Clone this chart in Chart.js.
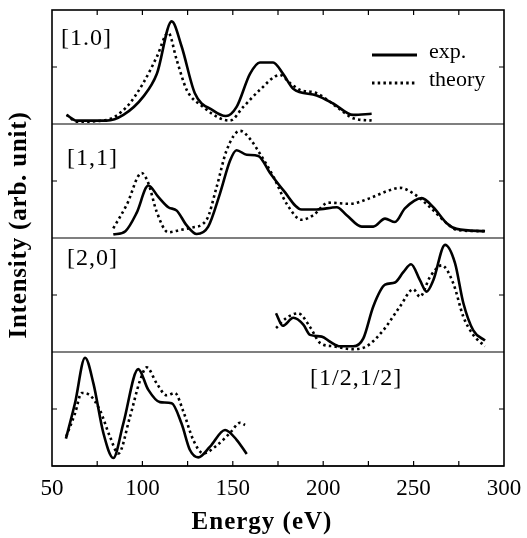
<!DOCTYPE html>
<html><head><meta charset="utf-8">
<script src="https://cdn.jsdelivr.net/npm/chart.js@4/dist/chart.umd.min.js"></script>
<style>html,body{margin:0;padding:0;background:#fff}</style>
</head><body>
<canvas id="c" width="527" height="538"></canvas>
<script>
// ---- data ----
const panelLabels = ['[1.0]', '[1,1]', '[2,0]', '[1/2,1/2]'];
const seriesNames = ['exp.', 'theory'];
const xTickValues = [50, 100, 150, 200, 250, 300];
const xTitle = 'Energy (eV)';
const yTitle = 'Intensity (arb. unit)';

// panel [1.0]
const p1ExpE = [58.1, 63.6, 80, 89.5, 100.5, 108, 116.2, 121.7, 129, 139, 146.2, 152.1, 159.5, 165, 172.3, 177.8, 183.4, 196.4, 205.5, 216.6, 226.8];
const p1ExpV = [8, 3, 3, 8, 24, 44, 90, 68, 27, 12, 7, 15, 44, 54, 54, 44, 31, 25, 18, 8, 9];
const p1ThE  = [58, 64, 80, 91.3, 100.5, 108, 114.3, 119, 124.5, 133.6, 142.9, 148.4, 155.8, 165, 176, 181.6, 187, 196.4, 207.5, 216.6, 226.8];
const p1ThV  = [8, 2, 3.5, 15, 36, 59, 80, 56, 30, 15, 5, 3, 15, 30, 43, 36, 30, 27, 15, 5, 3];

// panel [1,1]
const p2ExpE = [83.9, 90.6, 96.8, 103.3, 108.8, 114.3, 119, 124.5, 130, 136.4, 142.9, 148.5, 152.1, 157.7, 164.1, 170.6, 177.9, 188.1, 196.4, 207.5, 213, 221.3, 227.7, 234.2, 239.7, 245.2, 254.5, 260.9, 268.3, 273.8, 289.5];
const p2ExpV = [3, 6, 22, 46, 36, 27, 24, 11, 3.5, 10, 39, 68, 77, 73, 72, 57, 42, 25, 25, 27, 20, 10, 10, 17, 14, 26, 35, 27, 13, 8, 6];
const p2ThE  = [83.9, 91.3, 99.6, 103.3, 107.9, 114.3, 120.8, 127, 135.5, 141.1, 146.6, 154, 159.5, 165, 172.4, 179.8, 188.1, 194.5, 202.8, 214.8, 225.9, 235.1, 242.5, 249.9, 259.1, 268.3, 274, 289.5];
const p2ThV  = [8.5, 29, 57, 48, 23, 5, 7, 9, 16, 45, 77, 94, 87, 74, 54, 30, 16, 20, 31, 30, 35, 41, 44, 39, 27, 13, 7, 6];

// panel [2,0]
const p3ExpE = [173.9, 177.6, 183.5, 189, 192.7, 199.2, 203.8, 209.3, 216.6, 222.2, 227.7, 234.2, 239.7, 244.3, 248.6, 253.5, 257.2, 260.9, 267.4, 272.9, 277.5, 283, 289.5];
const p3ExpV = [34, 23, 30, 24, 15, 13.5, 9, 5, 5, 12, 40, 59, 61, 70, 77, 63, 53, 63, 94, 78, 43, 19, 10];
const p3ThE  = [173.9, 179.8, 186.2, 192.7, 198.2, 205.6, 216.6, 224, 233.2, 242.5, 249.9, 253.5, 259.1, 265.6, 272, 277.5, 283, 289.5];
const p3ThV  = [21, 30, 34, 22, 8, 5, 2.5, 5, 19, 40, 55, 48.5, 66, 76, 60, 31, 15, 5];

// panel [1/2,1/2]
const p4ExpE = [57.7, 62.7, 68.3, 72.9, 78.4, 83.9, 89.4, 97.7, 103.2, 109.7, 116.2, 121.7, 126.3, 130.9, 137.4, 145.7, 152.1, 157.7];
const p4ExpV = [24, 55, 95, 72.5, 29, 7, 37, 85, 67, 56, 55, 37, 14, 7.6, 17, 31.6, 23, 10.5];
const p4ThE  = [57.9, 62.7, 66.4, 71, 76.5, 82, 86.7, 93.1, 98.7, 102.4, 107.9, 113.4, 118, 122.6, 128.1, 133.7, 141.1, 148.5, 154, 156.8];
const p4ThV  = [26, 46, 64, 62, 49, 26, 11, 43, 75, 86.5, 72.5, 62, 64, 48, 23, 11, 18, 29, 38, 36];

// ---- build ----
const toPts = (E, V) => E.map((x, i) => ({x: x, y: V[i]}));
const panels = [
  [p1ExpE, p1ExpV, p1ThE, p1ThV],
  [p2ExpE, p2ExpV, p2ThE, p2ThV],
  [p3ExpE, p3ExpV, p3ThE, p3ThV],
  [p4ExpE, p4ExpV, p4ThE, p4ThV]
];
const DASH = [2.5, 3.2];
const datasets = [];
panels.forEach((p, i) => {
  datasets.push({label: seriesNames[0], data: toPts(p[0], p[1]), yAxisID: 'y' + (i + 1),
    borderColor: '#000', borderWidth: 2.6, pointRadius: 0, fill: false, cubicInterpolationMode: 'monotone'});
  datasets.push({label: seriesNames[1], data: toPts(p[2], p[3]), yAxisID: 'y' + (i + 1),
    borderColor: '#000', borderWidth: 2.6, borderDash: DASH, pointRadius: 0, fill: false, cubicInterpolationMode: 'monotone'});
});

const SERIF = '"Liberation Serif", "Times New Roman", serif';
function yScale(w) {
  return {type: 'linear', min: 0, max: 100, stack: 'panels', stackWeight: 1, weight: w, position: 'left',
    ticks: {display: false}, grid: {display: false}, border: {display: false},
    afterFit: s => { s.width = 0; }};
}

const labelPos = [
  {x: 61, dy: 29},
  {x: 67, dy: 35},
  {x: 67, dy: 21},
  {x: 310, dy: 27}
];

const framePlugin = {
  id: 'frame',
  afterDatasetsDraw(chart) {
    const {ctx, chartArea: a, scales} = chart;
    const xs = scales.x;
    ctx.save();
    ctx.strokeStyle = '#000';
    ctx.fillStyle = '#000';
    ctx.lineWidth = 1.6;
    ctx.strokeRect(a.left, a.top, a.right - a.left, a.bottom - a.top);
    ctx.lineWidth = 1.2;
    for (let i = 1; i <= 4; i++) {
      const s = scales['y' + i];
      ctx.beginPath();
      ctx.moveTo(a.left, s.bottom); ctx.lineTo(a.right, s.bottom); ctx.stroke();
      const ym = s.getPixelForValue(50);
      ctx.beginPath();
      ctx.moveTo(a.left, ym); ctx.lineTo(a.left + 5, ym);
      ctx.moveTo(a.right, ym); ctx.lineTo(a.right - 5, ym);
      ctx.stroke();
      ctx.font = '24px ' + SERIF;
      ctx.textAlign = 'left';
      ctx.textBaseline = 'middle';
      ctx.letterSpacing = '1px';
      ctx.fillText(panelLabels[i - 1], labelPos[i - 1].x, s.top + labelPos[i - 1].dy);
      ctx.letterSpacing = '0px';
    }
    for (let v = 75; v < 300; v += 25) {
      const px = xs.getPixelForValue(v);
      ctx.beginPath();
      ctx.moveTo(px, a.top); ctx.lineTo(px, a.top + 5);
      ctx.moveTo(px, a.bottom); ctx.lineTo(px, a.bottom - 5);
      ctx.stroke();
    }
    // legend
    const t = scales.y1.top;
    ctx.lineWidth = 2.8;
    ctx.beginPath(); ctx.moveTo(372, t + 45); ctx.lineTo(417, t + 45); ctx.stroke();
    ctx.setLineDash(DASH);
    ctx.beginPath(); ctx.moveTo(372, t + 73); ctx.lineTo(415, t + 73); ctx.stroke();
    ctx.setLineDash([]);
    ctx.font = '22px ' + SERIF;
    ctx.textAlign = 'left';
    ctx.textBaseline = 'middle';
    ctx.fillText(seriesNames[0], 429, t + 42);
    ctx.fillText(seriesNames[1], 429, t + 70);
    // x title (centred on the figure)
    ctx.font = 'bold 25px ' + SERIF;
    ctx.textAlign = 'center';
    ctx.textBaseline = 'middle';
    ctx.letterSpacing = '1px';
    ctx.fillText(xTitle, 262, 523);
    // y title
    ctx.translate(20, 225);
    ctx.rotate(-Math.PI / 2);
    ctx.letterSpacing = '0.8px';
    ctx.fillText(yTitle, 0, 0);
    ctx.restore();
  }
};

new Chart(document.getElementById('c'), {
  type: 'line',
  data: {datasets},
  options: {
    responsive: false,
    animation: false,
    devicePixelRatio: 1,
    layout: {padding: {left: 52, right: 23, top: 10, bottom: 0}},
    plugins: {legend: {display: false}, tooltip: {enabled: false}},
    scales: {
      x: {type: 'linear', min: 50, max: 300, position: 'bottom',
        afterBuildTicks: s => { s.ticks = xTickValues.map(v => ({value: v})); },
        ticks: {font: {family: SERIF, size: 23}, color: '#000', padding: 1, maxRotation: 0},
        grid: {display: false}, border: {display: false},
        title: {display: false},
        afterFit: s => { s.height = 72; }},
      y1: yScale(4),
      y2: yScale(3),
      y3: yScale(2),
      y4: yScale(1)
    }
  },
  plugins: [framePlugin]
});
</script>
</body></html>
